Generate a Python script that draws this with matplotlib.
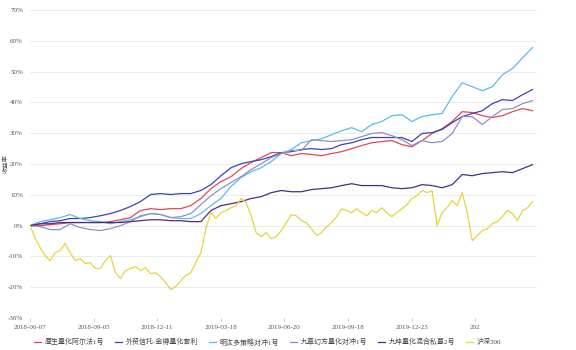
import numpy as np
import matplotlib
matplotlib.use("Agg")
import matplotlib.pyplot as plt

plt.rcParams["font.family"] = ["Liberation Serif", "Noto Sans CJK SC", "DejaVu Sans"]

# x axis: trading days since 2018-06-07, a label every 60 days
tick_labels = ["2018-06-07", "2018-09-05", "2018-12-11", "2019-03-18",
               "2019-06-20", "2019-09-18", "2019-12-23", "202"]
tick_step = 60
total_days = 474

# cumulative return (%), funds sampled every ~9.4 days, index every ~4.7 days
houshang = [0.0, 0.0, 0.3, 0.6, 1.0, 1.0, 1.0, 1.0, 1.3, 1.9, 2.6, 4.9, 5.5, 5.2, 5.5, 5.5,
            6.5, 8.8, 12.0, 14.3, 15.9, 18.5, 20.5, 22.1, 23.7, 23.7, 22.7, 23.4, 23.1, 22.7,
            23.4, 24.0, 25.0, 26.0, 26.9, 27.3, 27.6, 26.3, 25.6, 27.6, 29.9, 31.5, 33.8, 37.0,
            36.7, 35.7, 35.1, 35.7, 37.0, 38.0, 37.3]
jinzun = [0.0, 0.6, 1.3, 1.6, 2.3, 2.3, 2.6, 3.2, 3.9, 4.9, 6.2, 7.8, 10.1, 10.4, 10.1, 10.4,
          10.4, 11.4, 13.3, 16.2, 18.8, 20.1, 20.8, 21.4, 22.4, 23.7, 24.0, 24.7, 25.0, 24.7,
          25.0, 26.3, 26.9, 27.9, 28.6, 28.6, 28.6, 28.6, 27.3, 29.9, 30.2, 31.2, 33.4, 35.4,
          36.4, 37.3, 39.6, 40.9, 40.6, 42.5, 44.2]
minghong = [0.0, 1.3, 1.9, 2.6, 3.6, 2.3, 1.6, 1.3, 0.6, 1.3, 1.9, 2.9, 3.9, 3.6, 2.6, 2.3,
            2.3, 3.9, 6.5, 8.8, 12.7, 15.6, 17.5, 18.8, 20.8, 23.4, 24.7, 26.9, 27.6, 28.2,
            29.5, 30.8, 31.8, 30.5, 32.8, 33.8, 35.7, 36.0, 33.8, 35.4, 36.0, 36.4, 41.9, 46.4,
            45.1, 43.8, 45.1, 49.0, 51.0, 54.5, 57.8]
jiuzhang = [0.0, -0.3, -1.3, -1.3, 0.6, -0.6, -1.3, -1.6, -1.0, 0.0, 1.3, 3.2, 3.9, 3.6, 2.6,
            2.9, 3.9, 6.8, 9.7, 12.0, 14.0, 15.9, 18.2, 20.1, 22.1, 23.4, 24.4, 24.4, 27.9,
            27.6, 27.3, 27.6, 27.9, 28.9, 29.9, 30.2, 29.2, 27.9, 26.0, 27.6, 26.9, 27.3, 29.9,
            35.4, 35.4, 32.8, 35.4, 37.7, 38.0, 39.6, 40.6]
jiukun = [0.0, 0.6, 0.6, 1.0, 1.0, 1.0, 1.0, 1.0, 1.0, 1.0, 1.3, 1.6, 1.9, 1.9, 1.6, 1.6,
          1.3, 1.3, 4.9, 6.5, 7.1, 7.8, 8.8, 9.4, 10.7, 11.4, 11.0, 11.0, 11.7, 12.0, 12.3,
          13.0, 13.6, 13.0, 13.0, 13.0, 12.3, 12.0, 12.3, 13.3, 13.0, 12.3, 13.3, 16.6, 16.2,
          16.9, 17.2, 17.5, 17.2, 18.5, 19.8]
hs300 = [0.0, -3.9, -7.1, -9.7, -11.4, -8.8, -8.1, -5.8, -8.8, -11.4, -10.7, -12.3, -12.0,
         -13.9, -13.9, -11.4, -9.7, -15.3, -17.2, -14.6, -13.9, -13.3, -14.6, -13.6, -15.6,
         -15.3, -16.6, -18.5, -20.8, -19.8, -17.9, -16.2, -15.3, -12.0, -8.8, -1.0, 4.2, 2.3,
         4.2, 4.9, 5.8, 6.5, 8.8, 7.5, 3.2, -2.3, -3.6, -2.3, -4.2, -3.6, -1.6, 1.0, 3.6, 3.2,
         1.6, 1.0, -1.0, -3.2, -2.3, -0.3, 1.0, 2.9, 5.5, 4.9, 4.2, 5.5, 4.2, 3.2, 4.9, 4.2,
         5.8, 4.2, 2.9, 4.2, 5.5, 6.8, 8.8, 9.7, 11.4, 10.7, 11.4, 0.0, 4.2, 5.8, 8.1, 6.5,
         10.7, 4.2, -4.9, -3.2, -1.6, -1.0, 0.6, 1.3, 2.9, 4.9, 3.9, 1.6, 4.9, 5.8, 7.8]

series = [
    ("厚生量化阿尔法1号", houshang, "#e4474f"),
    ("外贸信托-金樽量化套利", jinzun, "#3c42b4"),
    ("明汯多策略对冲1号", minghong, "#5cbce8"),
    ("九章幻方量化对冲1号", jiuzhang, "#8f90c6"),
    ("九坤量化混合私募2号", jiukun, "#4b2d80"),
    ("沪深300", hs300, "#e8d43c"),
]

fig = plt.figure(figsize=(5.76, 3.5), dpi=100)
ax = fig.add_axes([0.052, 0.0914, 0.88, 0.88])

for name, vals, color in series:
    x = np.linspace(0, total_days, len(vals))
    ax.plot(x, vals, color=color, lw=0.9, label=name)

ax.set_ylim(-30, 70)
ax.set_yticks(np.arange(-30, 71, 10))
ax.set_yticklabels([f"{v}%" for v in range(-30, 71, 10)])
ax.set_xlim(0, 478)
ax.set_xticks(np.arange(len(tick_labels)) * tick_step)
ax.set_xticklabels(tick_labels)

ax.grid(axis="y", color="#e8e8e8", lw=0.6)
ax.set_axisbelow(True)
for s in ax.spines.values():
    s.set_visible(False)
ax.axhline(-30, xmin=0, xmax=0.875, color="#cccccc", lw=0.7)
ax.tick_params(axis="y", length=0, labelsize=5, colors="#555555", pad=5)
ax.tick_params(axis="x", length=2, color="#cccccc", labelsize=5, colors="#555555", pad=3)

ax.set_ylabel("收益率", fontsize=4.5, color="#555555")
ax.yaxis.set_label_coords(-0.043, 0.5)

fig.legend(loc="lower center", bbox_to_anchor=(0.465, -0.005), ncol=6, frameon=False,
           fontsize=5, handlelength=0.9, handletextpad=0.6, columnspacing=1.6,
           labelcolor="#444444")

fig.savefig("out.png", dpi=100)
